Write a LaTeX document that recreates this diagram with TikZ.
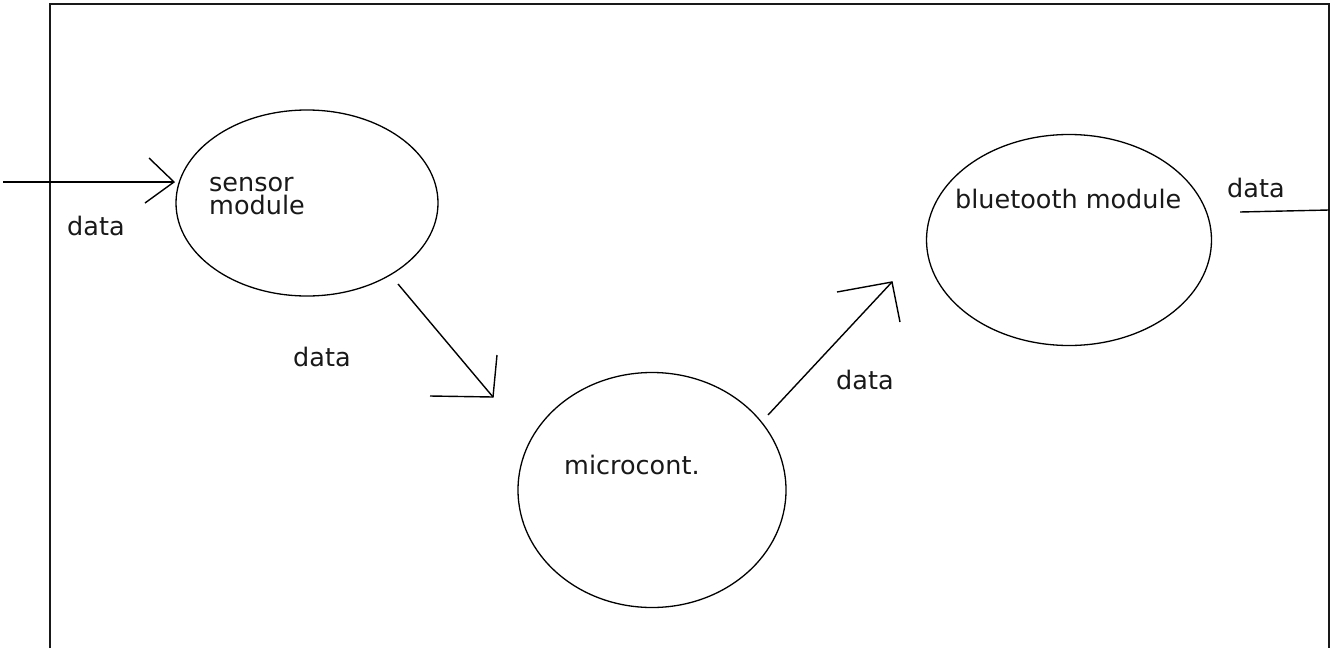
\documentclass[tikz,border=0pt]{standalone}
\usepackage{fontspec}
\newfontfamily\labelfont{DejaVu Sans}
\usetikzlibrary{shapes.geometric}
\begin{document}
\begin{tikzpicture}[x=1pt,y=-1pt,
  frame/.style={line width=2pt,black!90},
  bubble/.style={ellipse,draw,line width=1.3pt,inner sep=0pt},
  flow/.style={line width=1.4pt},
  txt/.style={anchor=base west,inner sep=0pt,font=\labelfont\fontsize{25.5}{23}\selectfont,text=black!90}]
\useasboundingbox (0,0) rectangle (1330,648);
\fill[white] (0,0) rectangle (1330,648);

% open frame (no bottom edge)
\draw[frame] (50,648) -- (50,4) -- (1329,4) -- (1329,648);

% process bubbles
\node[bubble,minimum width=262pt,minimum height=186pt] (sensor) at (307,203) {};
\node[bubble,minimum width=268pt,minimum height=235pt] (micro) at (652,490) {};
\node[bubble,minimum width=285pt,minimum height=211pt] (bt) at (1069,240) {};

% bubble texts (two-line label is anchored on its last line)
\node[txt,align=left] (sensorTxt) at (209,214) {sensor\\module};
\node[txt] (microTxt) at (564,474) {microcont.};
\node[txt] (btTxt) at (955,208) {bluetooth module};

% connector end points
\coordinate (inStart) at (3,182);
\coordinate (inTip) at (174,182);
\coordinate (inH1) at (149,158);
\coordinate (inH2) at (145,203);

\coordinate (smStart) at (398,284);
\coordinate (smTip) at (493,397);
\coordinate (smH1) at (430,396);
\coordinate (smH2) at (497,355);

\coordinate (mbStart) at (768,415);
\coordinate (mbTip) at (892,282);
\coordinate (mbH1) at (837,292);
\coordinate (mbH2) at (900,322);

\coordinate (outStart) at (1240,212);
\coordinate (outEnd) at (1329,210);

% data flows with open arrow heads
\draw[flow] (inStart) -- (inTip);
\draw[flow] (inH1) -- (inTip) -- (inH2);

\draw[flow] (smStart) -- (smTip);
\draw[flow] (smH1) -- (smTip) -- (smH2);

\draw[flow] (mbStart) -- (mbTip);
\draw[flow] (mbH1) -- (mbTip) -- (mbH2);

\draw[flow] (outStart) -- (outEnd);

% flow labels
\node[txt] (d1) at (67,235) {data};
\node[txt] (d2) at (293,366) {data};
\node[txt] (d3) at (836,389) {data};
\node[txt] (d4) at (1227,197) {data};
\end{tikzpicture}
\end{document}
